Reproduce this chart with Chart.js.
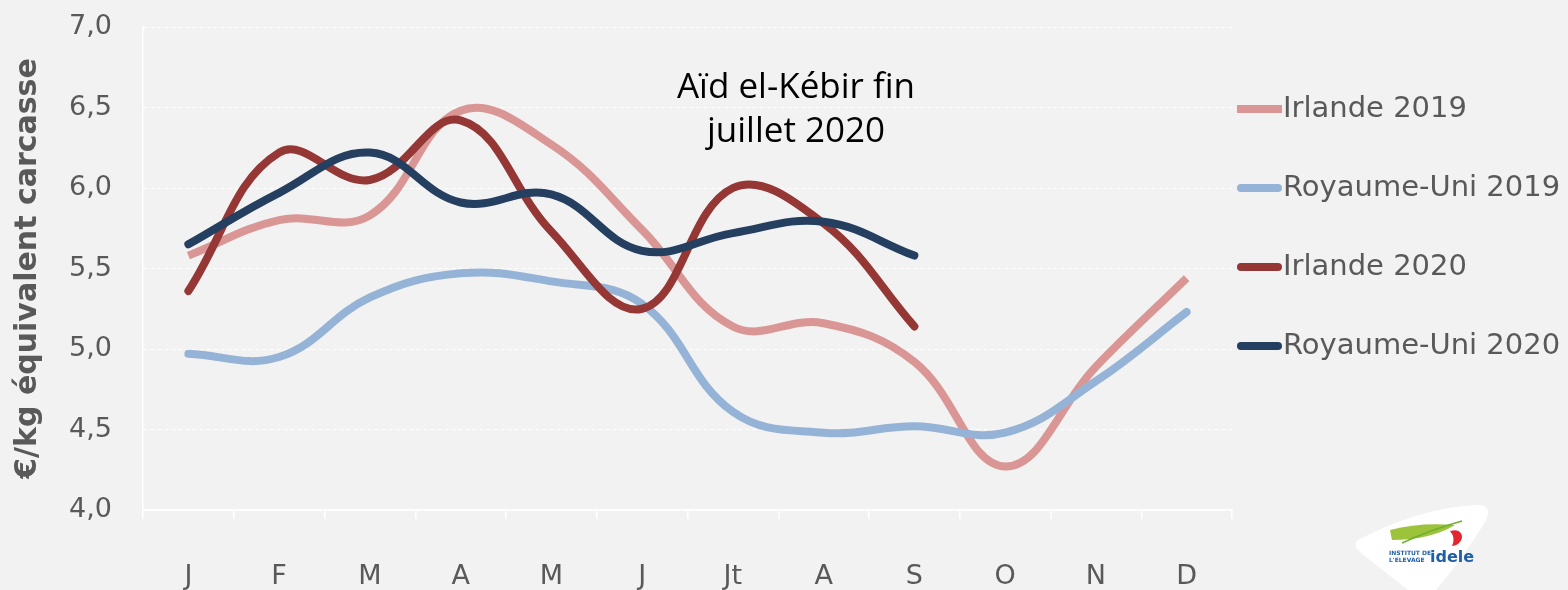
<!DOCTYPE html>
<html lang="fr">
<head>
<meta charset="utf-8">
<title>Prix agneau Irlande / Royaume-Uni</title>
<script src="https://cdn.jsdelivr.net/npm/chart.js@4.4.1/dist/chart.umd.min.js"></script>
<style>
  html, body { margin: 0; padding: 0; background: #f2f2f2; }
  #wrap { width: 1568px; height: 590px; }
</style>
</head>
<body>
<div id="wrap"><canvas id="prixChart" width="1568" height="590"></canvas></div>
<script>
// ---------- Data (€/kg équivalent carcasse) ----------
const months = ["J", "F", "M", "A", "M", "J", "Jt", "A", "S", "O", "N", "D"];
const irlande2019 = [5.58, 5.8, 5.83, 6.48, 6.27, 5.74, 5.14, 5.16, 4.92, 4.27, 4.89, 5.44];
const royaumeUni2019 = [4.97, 4.95, 5.32, 5.47, 5.42, 5.28, 4.61, 4.48, 4.52, 4.48, 4.8, 5.23];
const irlande2020 = [5.36, 6.22, 6.05, 6.42, 5.73, 5.25, 6.0, 5.78, 5.14];
const royaumeUni2020 = [5.65, 5.97, 6.22, 5.91, 5.96, 5.61, 5.72, 5.79, 5.58];
const yMin = 4, yMax = 7, yStep = 0.5;

const textGrey = "#595959";
const tickFont = { family: "DejaVu Sans", size: 27 };

// ---------- Legend, note and logo (drawn after the chart) ----------
const extras = {
  id: "extras",
  afterDraw(chart) {
    const { ctx, chartArea } = chart;

    // legend on the right
    const x0 = chartArea.right + 5;
    chart.data.datasets.forEach((ds, i) => {
      const y = chartArea.top + 82 + i * 79;
      ctx.save();
      ctx.strokeStyle = ds.borderColor;
      ctx.lineWidth = 8;
      ctx.lineCap = ds.borderCapStyle;
      const inset = ds.borderCapStyle === "round" ? 4 : 0;
      ctx.beginPath();
      ctx.moveTo(x0 + inset, y);
      ctx.lineTo(x0 + 45 - inset, y);
      ctx.stroke();
      ctx.fillStyle = textGrey;
      ctx.font = "29px 'DejaVu Sans'";
      ctx.textBaseline = "middle";
      ctx.fillText(ds.label, x0 + 46, y);
      ctx.restore();
    });

    // note
    ctx.save();
    ctx.fillStyle = "#000";
    ctx.font = "35px 'Open Sans'";
    ctx.textAlign = "center";
    ctx.textBaseline = "alphabetic";
    const cx = chartArea.left + 653;
    ctx.fillText("Aïd el-Kébir fin", cx, chartArea.top + 71);
    ctx.fillText("juillet 2020", cx, chartArea.top + 115);
    ctx.restore();

    // idele logo (rough)
    ctx.save();
    ctx.fillStyle = "#ffffff";
    ctx.beginPath();
    ctx.moveTo(1362, 538);
    ctx.quadraticCurveTo(1420, 508, 1476, 505);
    ctx.quadraticCurveTo(1494, 504, 1485, 522);
    ctx.quadraticCurveTo(1462, 560, 1436, 590);
    ctx.lineTo(1408, 590);
    ctx.quadraticCurveTo(1380, 568, 1360, 552);
    ctx.quadraticCurveTo(1350, 543, 1362, 538);
    ctx.fill();
    ctx.fillStyle = "#9cc33b";
    ctx.beginPath();
    ctx.moveTo(1390, 530);
    ctx.quadraticCurveTo(1420, 522, 1455, 525);
    ctx.quadraticCurveTo(1430, 540, 1392, 540);
    ctx.closePath();
    ctx.fill();
    ctx.strokeStyle = "#6fae2f";
    ctx.lineWidth = 1.5;
    ctx.beginPath();
    ctx.moveTo(1402, 543);
    ctx.quadraticCurveTo(1430, 530, 1462, 521);
    ctx.stroke();
    ctx.fillStyle = "#e4262c";
    ctx.beginPath();
    ctx.moveTo(1450, 531);
    ctx.quadraticCurveTo(1462, 528, 1462, 538);
    ctx.quadraticCurveTo(1460, 545, 1452, 546);
    ctx.quadraticCurveTo(1456, 538, 1450, 531);
    ctx.fill();
    ctx.fillStyle = "#1f5fa8";
    ctx.font = "bold 16px 'DejaVu Sans'";
    ctx.fillText("idele", 1430, 562);
    ctx.font = "bold 6px 'DejaVu Sans'";
    ctx.fillText("INSTITUT DE", 1389, 555);
    ctx.fillText("L'ELEVAGE", 1389, 562);
    ctx.restore();
  }
};

// ---------- Chart ----------
const ctx = document.getElementById("prixChart").getContext("2d");

const line = (label, data, color, cap, order) => ({
  label,
  data,
  borderColor: color,
  backgroundColor: color,
  borderWidth: 8,
  borderCapStyle: cap,
  borderJoinStyle: "round",
  tension: 0.4,
  pointRadius: 0,
  fill: false,
  order
});

new Chart(ctx, {
  type: "line",
  data: {
    labels: months,
    datasets: [
      line("Irlande 2019", irlande2019, "#d99694", "butt", 4),
      line("Royaume-Uni 2019", royaumeUni2019, "#95b3d7", "round", 3),
      line("Irlande 2020", irlande2020, "#953735", "round", 2),
      line("Royaume-Uni 2020", royaumeUni2020, "#243f60", "round", 1)
    ]
  },
  options: {
    responsive: false,
    animation: false,
    layout: { padding: { left: 10, top: 27, right: 336, bottom: 0 } },
    plugins: { legend: { display: false }, tooltip: { enabled: false } },
    scales: {
      x: {
        offset: true,
        grid: { offset: true, drawOnChartArea: false, drawTicks: true, tickLength: 9, color: "#ffffff", lineWidth: 1.5 },
        border: { color: "#ffffff", width: 1.5 },
        ticks: { color: textGrey, font: tickFont, padding: 42, maxRotation: 0, autoSkip: false },
        afterFit(scale) { scale.height = 80; }
      },
      y: {
        min: yMin,
        max: yMax,
        ticks: {
          stepSize: yStep,
          padding: 31,
          color: textGrey,
          font: tickFont,
          callback: (v) => v.toFixed(1).replace(".", ",")
        },
        grid: { color: "#ffffff", drawTicks: false, lineWidth: 1 },
        border: { color: "#ffffff", width: 1.5, dash: [4, 3] },
        title: {
          display: true,
          text: "€/kg équivalent carcasse",
          color: textGrey,
          font: { family: "DejaVu Sans", size: 30, weight: "bold" },
          padding: 0
        },
        afterFit(scale) {
          scale.width = 133;
          scale.paddingTop = 0;
          scale.paddingBottom = 0;
        }
      }
    }
  },
  plugins: [extras]
});
</script>
</body>
</html>
